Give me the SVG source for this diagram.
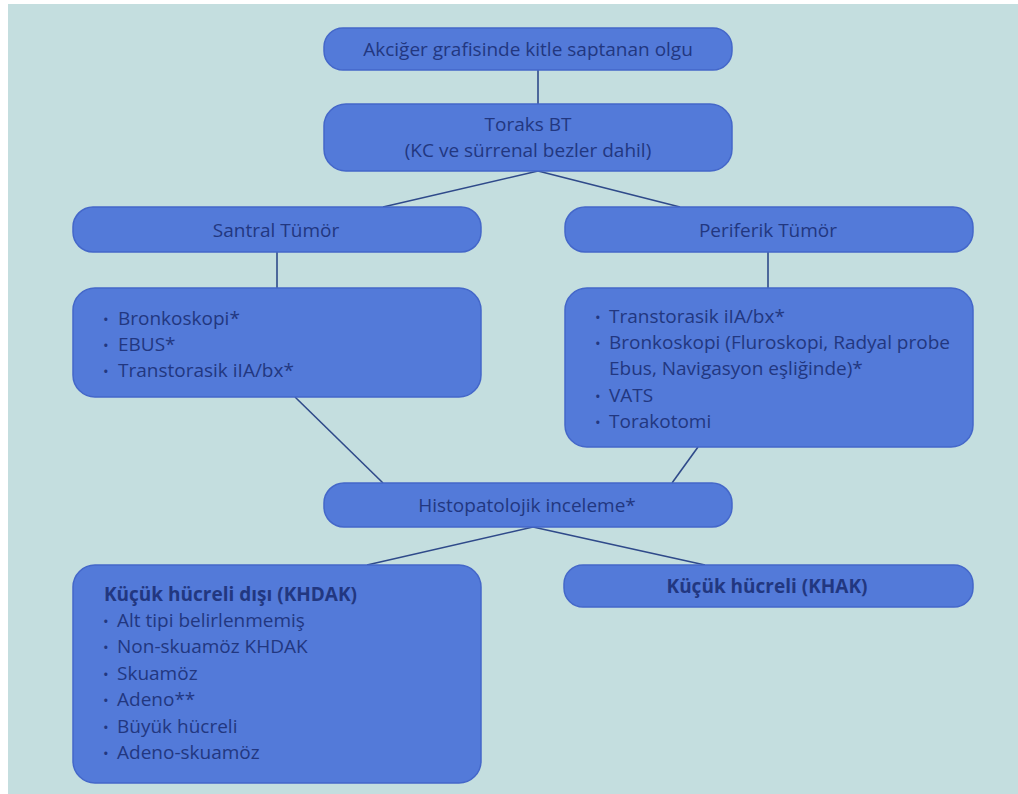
<svg xmlns="http://www.w3.org/2000/svg" width="1018" height="794" viewBox="0 0 1018 794">
<style>
.node{fill:#537ad9;stroke:#4467c9;stroke-width:1.5}
.t{font-family:"Open Sans","Liberation Sans",sans-serif;font-size:19px;fill:#223780}
.d{font-family:"Open Sans","Liberation Sans",sans-serif;font-size:15px;fill:#223780}
.c{text-anchor:middle}
.b{font-weight:bold}
.edge{stroke:#2f4a8a;stroke-width:1.6;fill:none}
</style>
<rect x="0" y="0" width="1018" height="794" fill="#ffffff"/>
<rect x="8" y="4" width="1010" height="790" fill="#c4dedf"/>
<g id="connectors">
<line class="edge" x1="538" y1="70" x2="538" y2="104"/>
<line class="edge" x1="538" y1="171" x2="383" y2="207"/>
<line class="edge" x1="538" y1="171" x2="680" y2="207"/>
<line class="edge" x1="277" y1="252" x2="277" y2="288"/>
<line class="edge" x1="768" y1="252" x2="768" y2="288"/>
<line class="edge" x1="295" y1="397" x2="383" y2="483"/>
<line class="edge" x1="698" y1="447" x2="672" y2="483"/>
<line class="edge" x1="533" y1="527" x2="367" y2="565"/>
<line class="edge" x1="533" y1="527" x2="705" y2="565"/>
</g>
<g id="n1">
<rect class="node" x="324" y="28" width="408" height="42" rx="19"/>
<text class="t c" x="528" y="56">Akciğer grafisinde kitle saptanan olgu</text>
</g>
<g id="n2">
<rect class="node" x="324" y="104" width="408" height="67" rx="22"/>
<text class="t c" x="528" y="131">Toraks BT</text>
<text class="t c" x="528" y="157">(KC ve sürrenal bezler dahil)</text>
</g>
<g id="n3">
<rect class="node" x="73" y="207" width="408" height="45" rx="20"/>
<text class="t c" x="276" y="237">Santral Tümör</text>
</g>
<g id="n4">
<rect class="node" x="565" y="207" width="408" height="45" rx="20"/>
<text class="t c" x="768" y="237">Periferik Tümör</text>
</g>
<g id="n5">
<rect class="node" x="73" y="288" width="408" height="109" rx="22"/>
<text class="d" x="103" y="325">•</text><text class="t" x="118" y="325">Bronkoskopi*</text>
<text class="d" x="103" y="351">•</text><text class="t" x="118" y="351">EBUS*</text>
<text class="d" x="103" y="377">•</text><text class="t" x="118" y="377">Transtorasik iIA/bx*</text>
</g>
<g id="n6">
<rect class="node" x="565" y="288" width="408" height="159" rx="22"/>
<text class="d" x="595" y="323">•</text><text class="t" x="609" y="323">Transtorasik iIA/bx*</text>
<text class="d" x="595" y="349">•</text><text class="t" x="609" y="349">Bronkoskopi (Fluroskopi, Radyal probe</text>
<text class="t" x="609" y="375">Ebus, Navigasyon eşliğinde)*</text>
<text class="d" x="595" y="402">•</text><text class="t" x="609" y="402">VATS</text>
<text class="d" x="595" y="428">•</text><text class="t" x="609" y="428">Torakotomi</text>
</g>
<g id="n7">
<rect class="node" x="324" y="483" width="408" height="44" rx="20"/>
<text class="t c" x="527" y="512">Histopatolojik inceleme*</text>
</g>
<g id="n8">
<rect class="node" x="73" y="565" width="408" height="218" rx="22"/>
<text class="t b" x="104" y="601">Küçük hücreli dışı (KHDAK)</text>
<text class="d" x="103" y="627">•</text><text class="t" x="117" y="627">Alt tipi belirlenmemiş</text>
<text class="d" x="103" y="653">•</text><text class="t" x="117" y="653">Non-skuamöz KHDAK</text>
<text class="d" x="103" y="680">•</text><text class="t" x="117" y="680">Skuamöz</text>
<text class="d" x="103" y="706">•</text><text class="t" x="117" y="706">Adeno**</text>
<text class="d" x="103" y="733">•</text><text class="t" x="117" y="733">Büyük hücreli</text>
<text class="d" x="103" y="759">•</text><text class="t" x="117" y="759">Adeno-skuamöz</text>
</g>
<g id="n9">
<rect class="node" x="564" y="565" width="409" height="42" rx="19"/>
<text class="t c b" x="767" y="593">Küçük hücreli (KHAK)</text>
</g>
</svg>
